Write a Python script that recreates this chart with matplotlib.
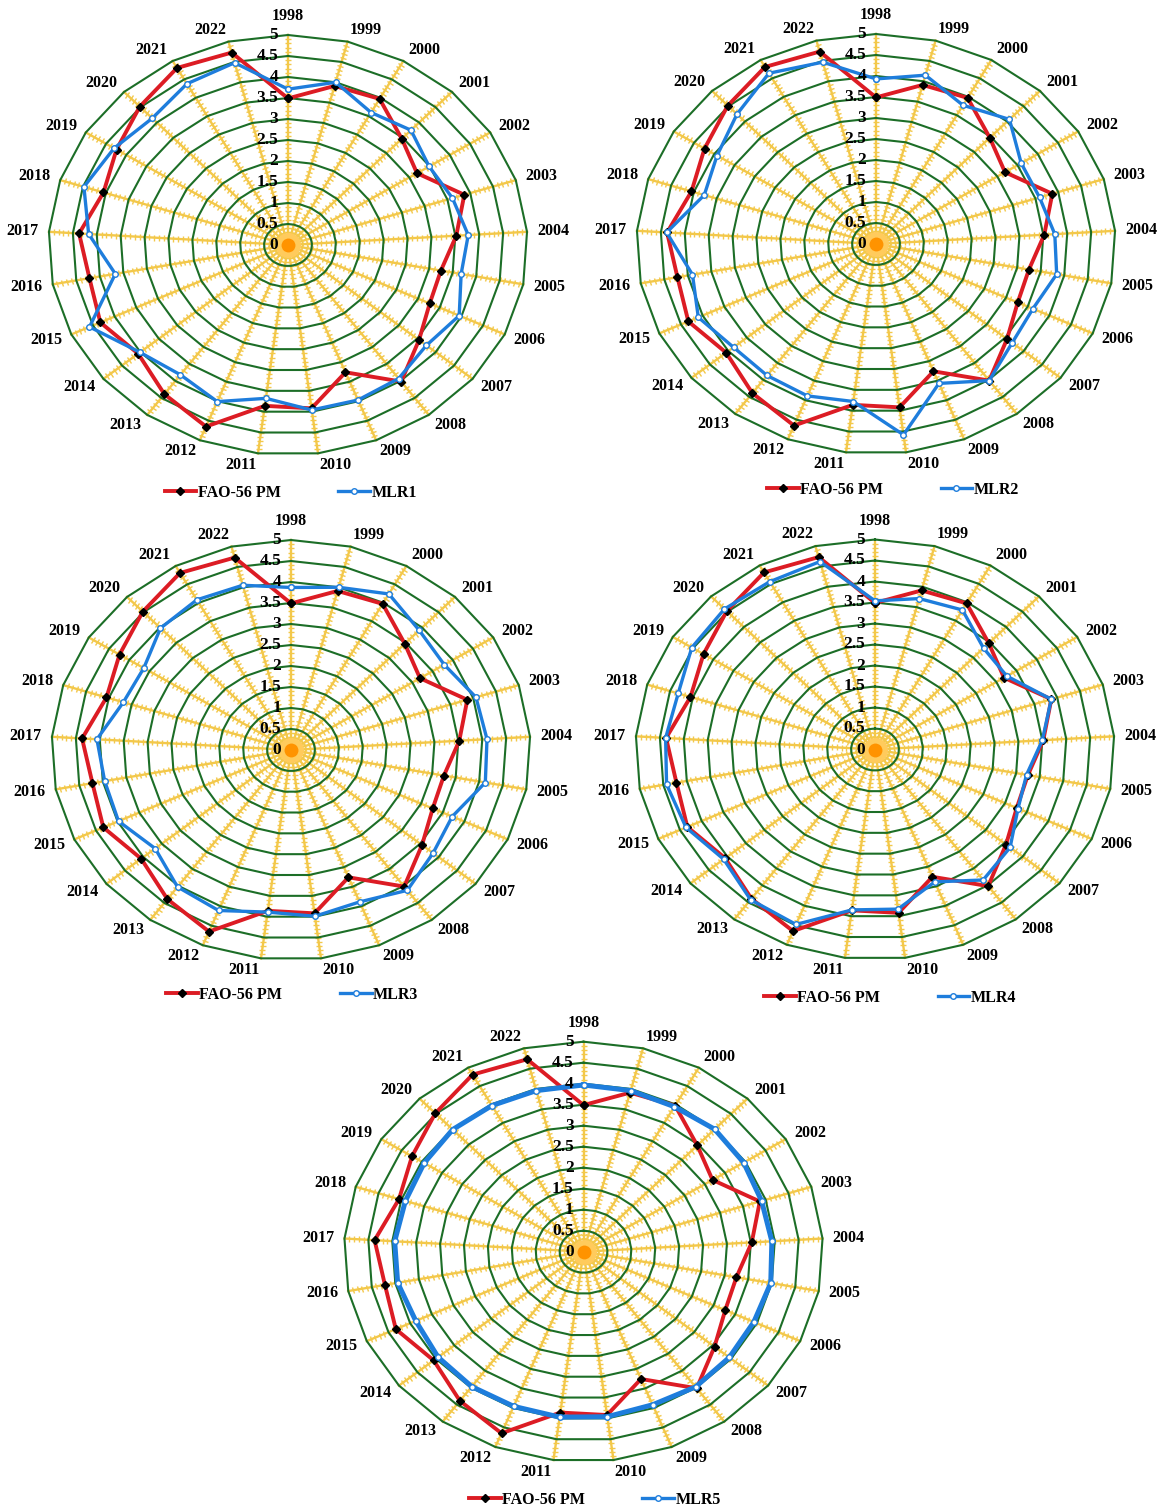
import numpy as np
import matplotlib.pyplot as plt
from matplotlib.lines import Line2D
from matplotlib.markers import MarkerStyle
from matplotlib.transforms import Affine2D

plt.rcParams['font.family'] = ['Liberation Serif', 'DejaVu Serif']
plt.rcParams['font.weight'] = 'bold'

years = [str(y) for y in range(1998, 2023)]

# annual ET0 (mm/day)
fao56 = [3.49, 3.91, 3.97, 3.47, 3.19, 3.87, 3.52, 3.25, 3.27, 3.55, 4.02, 3.26, 3.92,
         3.86, 4.65, 4.39, 4.06, 4.33, 4.22, 4.37, 4.05, 4.24, 4.52, 4.81, 4.73]
mlr1 = [3.71, 4.00, 3.60, 3.75, 3.49, 3.61, 3.77, 3.68, 3.95, 3.75, 3.93, 3.97, 3.96,
        3.68, 4.01, 3.82, 4.01, 4.58, 3.67, 4.17, 4.48, 4.30, 4.14, 4.38, 4.48]
mlr2 = [3.93, 4.15, 3.77, 4.07, 3.59, 3.59, 3.74, 3.84, 3.62, 3.69, 4.02, 3.57, 4.58,
        3.78, 3.89, 3.87, 3.86, 4.10, 3.90, 4.38, 3.77, 3.93, 4.24, 4.64, 4.47]
mlr3 = [3.87, 4.00, 4.24, 3.91, 3.79, 4.06, 4.10, 4.13, 3.72, 3.85, 4.13, 3.89, 3.99,
        3.89, 4.11, 4.03, 3.68, 3.98, 3.96, 4.06, 3.68, 3.64, 3.98, 4.08, 4.05]
mlr4 = [3.54, 3.71, 3.79, 3.31, 3.26, 3.87, 3.50, 3.22, 3.30, 3.66, 3.84, 3.39, 3.83,
        3.85, 4.48, 4.42, 4.10, 4.36, 4.43, 4.38, 4.32, 4.53, 4.59, 4.56, 4.62]
mlr5 = [3.97, 3.96, 3.94, 4.00, 3.96, 3.91, 3.94, 3.98, 3.93, 3.95, 3.98, 3.92, 3.96,
        3.97, 3.96, 3.97, 3.94, 3.87, 3.95, 3.95, 3.91, 3.94, 3.99, 3.97, 3.96]

models = ['MLR1', 'MLR2', 'MLR3', 'MLR4', 'MLR5']
model_values = [mlr1, mlr2, mlr3, mlr4, mlr5]

W, H = 1159, 1510
RX, RY = 239.5, 210.0
centres = [(288, 245), (876, 244), (291, 750), (875, 749.5), (583.5, 1251.7)]
legend_at = [(291, 493), (893, 490), (292, 995), (890, 998), (595, 1500)]

RED = '#dc1c24'
BLUE = '#1e7ddc'
GREEN = '#1c6e27'
GOLD = '#f3c84a'


def draw_radar(ax, model, name, lw_model):
    n = len(years)
    theta = np.linspace(0, 2 * np.pi, n, endpoint=False)
    closed = np.append(theta, theta[0])

    ax.set_theta_zero_location('N')
    ax.set_theta_direction(-1)
    ax.set_ylim(0, 5)
    ax.set_aspect('auto')
    ax.grid(False)
    ax.set_xticks([])
    ax.set_yticks([])
    ax.spines['polar'].set_visible(False)
    ax.patch.set_alpha(0)

    # spokes with little cross ticks
    tick_r = np.arange(0.1, 5.0, 0.1)
    for t in theta:
        ax.plot([t, t], [0, 5], color=GOLD, lw=1.7, zorder=1, clip_on=False)
        phi = np.degrees(np.arctan2(np.cos(t) * RY, np.sin(t) * RX))
        mk = MarkerStyle('|', transform=Affine2D().rotate_deg(phi))
        ax.plot(np.full(tick_r.size, t), tick_r, ls='none', marker=mk, ms=5,
                mew=1.0, color=GOLD, zorder=1, clip_on=False)

    # polygon rings
    for r in np.arange(0.5, 5.01, 0.5):
        ax.plot(closed, np.full(closed.size, r), color=GREEN, lw=1.5, zorder=2,
                clip_on=False)

    ax.plot([0], [0], 'o', color='#ffcb5c', ms=18, mew=0, zorder=3)
    ax.plot([0], [0], 'o', color='#ff9300', ms=10, mew=0, zorder=3)

    ax.plot(closed, fao56 + fao56[:1], color=RED, lw=2.8, marker='D', ms=4.2,
            mfc='black', mec='black', zorder=4, clip_on=False)
    ax.plot(closed, model + model[:1], color=BLUE, lw=lw_model, marker='o', ms=4,
            mfc='white', mec=BLUE, mew=1.0, zorder=5, clip_on=False)

    # year labels sit just outside the end of each spoke
    for t, y in zip(theta, years):
        s, c = np.sin(t), np.cos(t)
        ha = 'left' if s > 0.05 else ('right' if s < -0.05 else 'center')
        dx = 10 * s * 0.72
        dy = (7 + 5) * c * 0.72
        if abs(s) < 0.05:
            dy += 5
        ax.annotate(y, xy=(t, 5), xytext=(dx, dy), textcoords='offset points',
                    ha=ha, va='center', fontsize=11.5, fontweight='bold')

    for r in np.arange(0, 5.01, 0.5):
        ax.annotate(f'{r:g}', xy=(0, r), xytext=(-7, 0), textcoords='offset points',
                    ha='right', va='center', fontsize=12.5, fontweight='bold', zorder=6)


fig = plt.figure(figsize=(W / 100, H / 100), dpi=100)

for i, (name, vals) in enumerate(zip(models, model_values)):
    cx, cy = centres[i]
    ax = fig.add_axes([(cx - RX) / W, 1 - (cy + RY) / H, 2 * RX / W, 2 * RY / H],
                      projection='polar')
    draw_radar(ax, vals, name, 3.6 if name == 'MLR5' else 2.4)

    handles = [
        Line2D([], [], color=RED, lw=2.8, marker='D', ms=4.2, mfc='black', mec='black'),
        Line2D([], [], color=BLUE, lw=2.4, marker='o', ms=4, mfc='white', mec=BLUE),
    ]
    lx, ly = legend_at[i]
    fig.legend(handles, ['FAO-56 PM', name], loc='center', bbox_to_anchor=(lx / W, 1 - ly / H),
               ncol=2, frameon=False, handlelength=2.0, handletextpad=0.1,
               columnspacing=3.6, prop={'weight': 'bold', 'size': 11.5})

fig.savefig('out.png', dpi=100)
